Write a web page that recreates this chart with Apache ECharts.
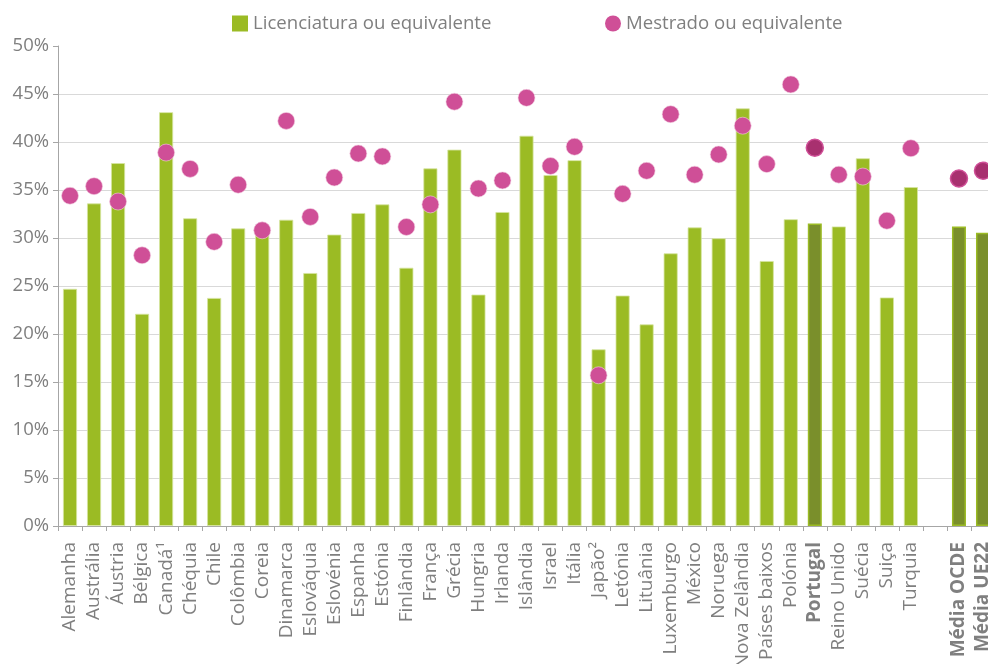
<!DOCTYPE html>
<html>
<head>
<meta charset="utf-8">
<script src="https://cdn.jsdelivr.net/npm/echarts@6/dist/echarts.min.js"></script>
<style>html,body{margin:0;padding:0;background:#fff}#c{width:988px;height:664px}</style>
</head>
<body>
<div id="c"></div>
<script>
const categories = ['Alemanha','Austrália','Áustria','Bélgica','Canadá¹','Chéquia','Chile','Colômbia','Coreia','Dinamarca','Eslováquia','Eslovénia','Espanha','Estónia','Finlândia','França','Grécia','Hungria','Irlanda','Islândia','Israel','Itália','Japão²','Letónia','Lituânia','Luxemburgo','México','Noruega','Nova Zelândia','Países baixos','Polónia','Portugal','Reino Unido','Suécia','Suiça','Turquia','','Média OCDE','Média UE22'];
const licenciatura = [24.7,33.6,37.8,22.1,43.1,32.05,23.75,31.0,30.4,31.9,26.35,30.35,32.6,33.5,26.9,37.25,39.2,24.1,32.7,40.65,36.55,38.1,18.4,24.0,21.0,28.4,31.1,29.97,43.5,27.6,31.95,31.5,31.2,38.3,23.8,35.3,null,31.2,30.55];
const mestrado = [34.4,35.4,33.8,28.2,38.9,37.2,29.6,35.55,30.8,42.2,32.2,36.3,38.8,38.5,31.15,33.5,44.2,35.15,36.0,44.6,37.5,39.5,15.7,34.6,37.0,42.9,36.6,38.7,41.7,37.7,46.0,39.4,36.6,36.4,31.8,39.35,null,36.2,37.0];
const yTicks = [0,5,10,15,20,25,30,35,40,45,50];
const highlighted = ['Portugal','Média OCDE','Média UE22'];

const GREEN = '#9bbb24', GREEN_DARK = '#7a8f2b';
const PINK = '#cf4f97', PINK_DARK = '#a8306f';
const TXT = '#7f7f7f';
const FONT = 'Open Sans';

const barData = licenciatura.map((v, i) => highlighted.includes(categories[i])
  ? {value: v, itemStyle: {color: GREEN_DARK, borderColor: GREEN, borderWidth: 1.5}}
  : {value: v});
const dotData = mestrado.map((v, i) => highlighted.includes(categories[i])
  ? {value: v, itemStyle: {color: PINK_DARK, borderColor: PINK, borderWidth: 1.5}}
  : {value: v});

const chart = echarts.init(document.getElementById('c'));
chart.setOption({
  animation: false,
  textStyle: {fontFamily: FONT},
  legend: [
    {left: 232, top: 14, padding: 0, itemWidth: 16, itemHeight: 16, itemGap: 5,
     itemStyle: {borderWidth: 0},
     textStyle: {color: TXT, fontSize: 18.6, fontFamily: FONT},
     data: [{name: 'Licenciatura ou equivalente', icon: 'rect', itemStyle: {color: GREEN, borderWidth: 0}}]},
    {left: 605, top: 14, padding: 0, itemWidth: 16, itemHeight: 16,
     itemStyle: {borderWidth: 0},
     textStyle: {color: TXT, fontSize: 18.6, fontFamily: FONT},
     data: [{name: 'Mestrado ou equivalente', icon: 'circle', itemStyle: {color: PINK, borderWidth: 0}}]}
  ],
  grid: {left: 58, right: -7, top: 46, bottom: 138, containLabel: false, outerBoundsMode: 'none'},
  xAxis: {
    type: 'category', data: categories, boundaryGap: true,
    axisLine: {lineStyle: {color: '#a6a6a6', width: 1}},
    axisTick: {show: true, length: 5, lineStyle: {color: '#a6a6a6'}},
    axisLabel: {
      interval: 0, rotate: 90, margin: 16, color: TXT, fontSize: 19, fontFamily: FONT,
      formatter: v => highlighted.includes(v) ? '{b|' + v + '}' : v,
      rich: {b: {fontWeight: 'bold', color: TXT, fontSize: 19, fontFamily: FONT}}
    },
    splitLine: {show: false}
  },
  yAxis: {
    type: 'value', min: yTicks[0], max: yTicks[yTicks.length - 1], interval: 5,
    axisLine: {show: true, lineStyle: {color: '#a6a6a6'}},
    axisTick: {show: true, length: 5, lineStyle: {color: '#a6a6a6'}},
    axisLabel: {formatter: '{value}%', color: TXT, fontSize: 18.5, fontFamily: FONT, margin: 9},
    splitLine: {show: true, lineStyle: {color: yTicks.map((t, i) => i === yTicks.length - 1 ? 'rgba(0,0,0,0)' : '#d9d9d9'), width: 1}}
  },
  series: [
    {name: 'Licenciatura ou equivalente', type: 'bar', data: barData, barWidth: 14,
     itemStyle: {color: GREEN, borderColor: '#d6e5a0', borderWidth: 0.8}, z: 2},
    {name: 'Mestrado ou equivalente', type: 'scatter', data: dotData, symbol: 'circle', symbolSize: 17,
     itemStyle: {color: PINK, opacity: 1, borderColor: '#f3d0e3', borderWidth: 0.6}, z: 3}
  ]
});
</script>
</body>
</html>
